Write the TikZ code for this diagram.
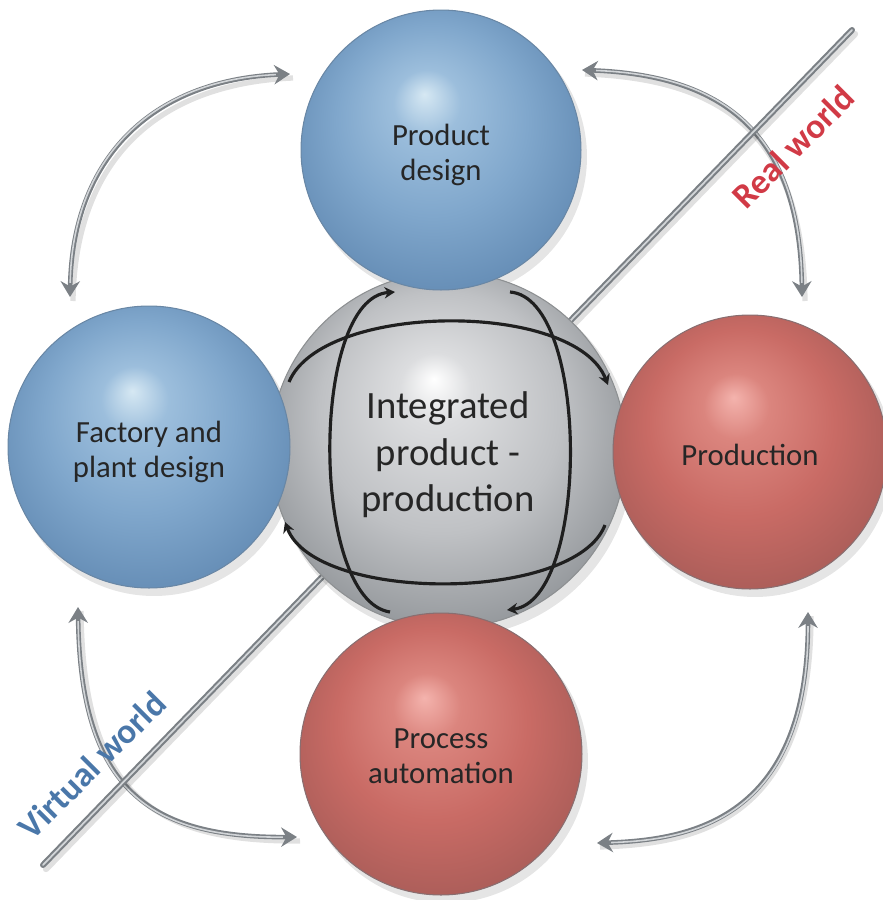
\documentclass[tikz,border=0pt]{standalone}
\usepackage{fontspec}
\setmainfont{Carlito}
\usetikzlibrary{arrows.meta,calc}

\definecolor{bhl}{HTML}{D6E8F3}
\definecolor{bmid}{HTML}{9CBEDC}
\definecolor{bbase}{HTML}{80A7CC}
\definecolor{bedge}{HTML}{6189B2}
\definecolor{brim}{HTML}{44698E}
\definecolor{rhl}{HTML}{F4B3AD}
\definecolor{rmid}{HTML}{DB857E}
\definecolor{rbase}{HTML}{C96B65}
\definecolor{redge}{HTML}{A65B57}
\definecolor{rrim}{HTML}{6C4A4C}
\definecolor{ghl}{HTML}{FFFFFF}
\definecolor{gmid}{HTML}{DCDDDF}
\definecolor{gbase}{HTML}{BFC1C4}
\definecolor{gedge}{HTML}{8C9094}
\definecolor{grim}{HTML}{5C6064}
\definecolor{txt}{HTML}{262626}
\definecolor{tubedark}{HTML}{7B8085}
\definecolor{tubelight}{HTML}{D2D5D8}
\definecolor{realred}{HTML}{D13A46}
\definecolor{virtblue}{HTML}{4A77A9}

\pgfdeclareradialshading{sphblue}{\pgfpoint{-3bp}{10bp}}{color(0bp)=(bhl); color(6bp)=(bmid); color(17bp)=(bbase); color(30bp)=(bedge); color(36bp)=(brim)}
\pgfdeclareradialshading{sphred}{\pgfpoint{-3bp}{10bp}}{color(0bp)=(rhl); color(6bp)=(rmid); color(17bp)=(rbase); color(30bp)=(redge); color(36bp)=(rrim)}
\pgfdeclareradialshading{sphgrey}{\pgfpoint{-2bp}{10bp}}{color(0bp)=(ghl); color(5bp)=(gmid); color(17bp)=(gbase); color(30bp)=(gedge); color(36bp)=(grim)}

\tikzset{
  sphere/.style={circle, inner sep=0pt},
  bluesph/.style={sphere, shading=sphblue, draw=brim!80, line width=0.6pt},
  redsph/.style={sphere, shading=sphred, draw=rrim!80, line width=0.6pt},
  greysph/.style={sphere, shading=sphgrey, draw=grim!70, line width=0.6pt},
  lbl/.style={align=center, text=txt, inner sep=0pt, font=\fontsize{17.5}{20}\selectfont},
  biglbl/.style={lbl, font=\fontsize{22}{26.5}\selectfont},
  tube/.style={line width=2.6pt, draw=tubedark,
     {Stealth[length=9pt,width=11pt,inset=3pt,fill=tubedark]}-{Stealth[length=9pt,width=11pt,inset=3pt,fill=tubedark]}},
  tubehl/.style={line width=0.9pt, draw=tubelight, shorten <=8pt, shorten >=8pt},
  tubeshadow/.style={line width=3pt, draw=black, opacity=0.12},
  inner/.style={line width=1.8pt, draw=black!88, -{Stealth[length=6pt,width=6.5pt]}},
  worldlbl/.style={font=\fontsize{20}{24}\selectfont\bfseries, rotate=45, inner sep=0pt},
  sphshadow/.style={fill=black, opacity=0.10},
}

\begin{document}
\begin{tikzpicture}[x=0.02cm, y=-0.02cm]
\path[use as bounding box] (0,0) rectangle (883,900);

% sphere centres
\coordinate (cPD) at (441,150);
\coordinate (cFP) at (149,447);
\coordinate (cIP) at (448,450);
\coordinate (cPR) at (750,452);
\coordinate (cPA) at (441,754);

% outer arrow end points
\coordinate (a1s) at (70,297);  \coordinate (a1e) at (290,74);
\coordinate (a2s) at (582,70);  \coordinate (a2e) at (802,297);
\coordinate (a3s) at (78,607);  \coordinate (a3e) at (297,837);
\coordinate (a4s) at (808,612); \coordinate (a4e) at (597,843);

% arrow shadows
\draw[tubeshadow] ($(a1s)+(3,4)$) .. controls (75,164) and (153,84) .. ($(a1e)+(3,4)$);
\draw[tubeshadow] ($(a2s)+(3,4)$) .. controls (723,79) and (803,134) .. ($(a2e)+(3,4)$);
\draw[tubeshadow] ($(a3s)+(3,4)$) .. controls (83,794) and (153,842) .. ($(a3e)+(3,4)$);
\draw[tubeshadow] ($(a4s)+(3,4)$) .. controls (811,824) and (693,844) .. ($(a4e)+(3,4)$);

% outer double arrows
\draw[tube] (a1s) .. controls (72,160) and (150,80) .. (a1e);
\draw[tubehl] (a1s) .. controls (72,160) and (150,80) .. (a1e);
\draw[tube] (a2s) .. controls (720,75) and (800,130) .. (a2e);
\draw[tubehl] (a2s) .. controls (720,75) and (800,130) .. (a2e);
\draw[tube] (a3s) .. controls (80,790) and (150,838) .. (a3e);
\draw[tubehl] (a3s) .. controls (80,790) and (150,838) .. (a3e);
\draw[tube] (a4s) .. controls (808,820) and (690,840) .. (a4e);
\draw[tubehl] (a4s) .. controls (808,820) and (690,840) .. (a4e);

% diagonal divider
\coordinate (d1) at (43,865);
\coordinate (d2) at (852,30);
\draw[line width=3.6pt, black, opacity=0.12, line cap=round] ($(d1)+(3,4)$) -- ($(d2)+(3,4)$);
\draw[line width=3.4pt, tubedark, line cap=round] (d1) -- (d2);
\draw[line width=1pt, tubelight, line cap=round] (d1) -- (d2);

% sphere shadows
\fill[sphshadow] ($(cIP)+(5,7)$) circle (3.60cm);
\fill[sphshadow] ($(cPD)+(5,7)$) circle (2.82cm);
\fill[sphshadow] ($(cFP)+(5,7)$) circle (2.84cm);
\fill[sphshadow] ($(cPR)+(5,7)$) circle (2.76cm);
\fill[sphshadow] ($(cPA)+(5,7)$) circle (2.84cm);

% spheres
\node[greysph, minimum size=7.12cm] (ip) at (cIP) {};
\node[bluesph, minimum size=5.60cm] (pd) at (cPD) {};
\node[bluesph, minimum size=5.64cm] (fp) at (cFP) {};
\node[redsph, minimum size=5.48cm] (pr) at (cPR) {};
\node[redsph, minimum size=5.64cm] (pa) at (cPA) {};

% inner circulation arrows
\coordinate (i1s) at (289,382); \coordinate (i1e) at (608,385);
\coordinate (i2s) at (510,292); \coordinate (i2e) at (507,610);
\coordinate (i3s) at (605,525); \coordinate (i3e) at (285,522);
\coordinate (i4s) at (390,612); \coordinate (i4e) at (395,292);
\draw[inner] (i1s) .. controls (322,302) and (575,300) .. (i1e);
\draw[inner] (i2s) .. controls (590,298) and (590,600) .. (i2e);
\draw[inner] (i3s) .. controls (575,603) and (315,603) .. (i3e);
\draw[inner] (i4s) .. controls (310,600) and (310,298) .. (i4e);

% sphere labels
\node[biglbl] (ipt) at ($(ip)+(0,5)$) {Integrated\\product -\\production};
\node[lbl] (pdt) at ($(pd)+(0,5)$) {Product\\design};
\node[lbl] (fpt) at ($(fp)+(0,5)$) {Factory and\\plant design};
\node[lbl] (prt) at ($(pr)+(0,3)$) {Production};
\node[lbl] (pat) at ($(pa)+(0,2)$) {Process\\automation};

% world labels
\node[worldlbl, text=realred] (rw) at (793,147) {Real world};
\node[worldlbl, text=virtblue] (vw) at (92,765) {Virtual world};
\end{tikzpicture}
\end{document}
